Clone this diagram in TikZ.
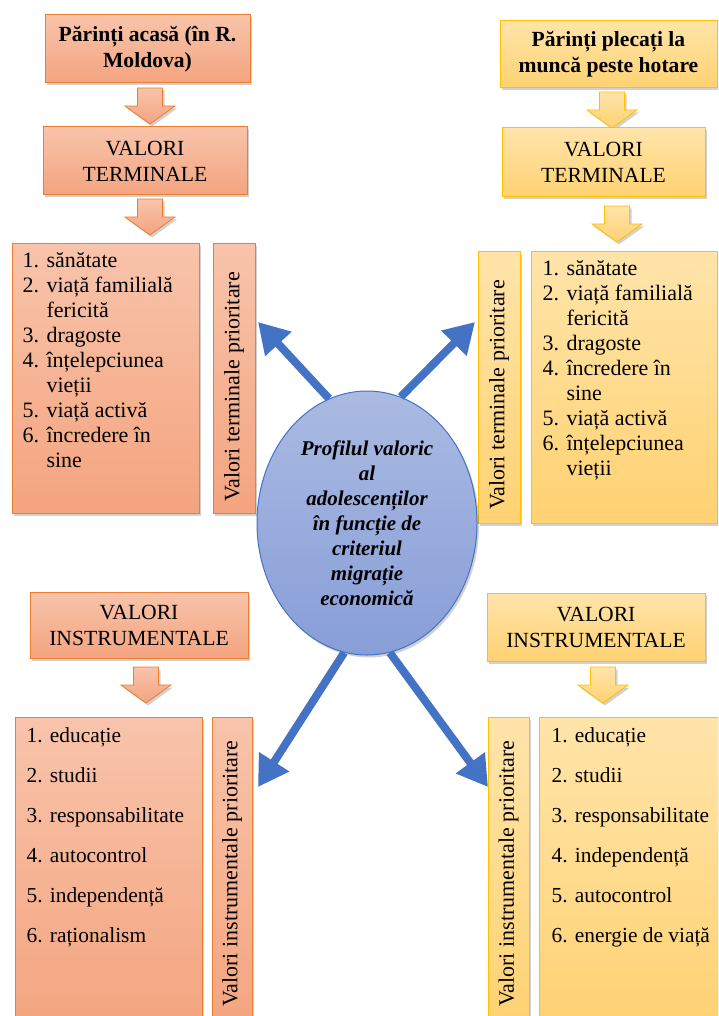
\documentclass[tikz,border=0pt]{standalone}
\usepackage{fontspec}
\setmainfont{Liberation Serif}
\usetikzlibrary{arrows.meta,shapes.geometric,shadows,positioning}
\definecolor{orangeline}{HTML}{ED7D31}
\definecolor{orangetop}{HTML}{F8C4AB}
\definecolor{orangebot}{HTML}{F4A47F}
\definecolor{goldline}{HTML}{FFC000}
\definecolor{goldtop}{HTML}{FFE4AA}
\definecolor{goldbot}{HTML}{FFD272}
\definecolor{blueline}{HTML}{4472C4}
\definecolor{bluetop}{HTML}{AABAE2}
\definecolor{bluebot}{HTML}{889ED8}
\begin{document}
\begin{tikzpicture}[x=1pt,y=-1pt,
    shadowed/.style={drop shadow={shadow xshift=2pt,shadow yshift=-2.5pt,opacity=0.3,fill=black!60}},
    orangebox/.style={draw=orangeline,line width=1pt,top color=orangetop,bottom color=orangebot,shadowed},
    goldbox/.style={draw=goldline,line width=1pt,top color=goldtop,bottom color=goldbot,shadowed},
    titletext/.style={font=\fontsize{21.6}{26}\selectfont\bfseries,align=center,inner sep=0pt},
    headtext/.style={font=\fontsize{21.6}{26}\selectfont,align=center,inner sep=0pt},
    sidebox/.style={rotate=90,font=\fontsize{22}{25}\selectfont,inner sep=0pt},
    listtext/.style={font=\fontsize{22}{25}\selectfont,align=left,inner sep=0pt},
    longlist/.style={listtext,font=\fontsize{21.4}{40}\selectfont},
    bluearrow/.style={draw=blueline,line width=8pt,-{Triangle[length=30pt,width=34pt]}}]
\useasboundingbox (0,0) rectangle (718,1016);
\clip (0,0) rectangle (718,1016);

    %Sageti groase intre cutii
    \foreach \cx/\ty/\sty in {150/88/orangebox,150/199/orangebox,612/92/goldbox,617/206/goldbox,146/667/orangebox,603/667/goldbox}{
        \draw[\sty,line width=0.8pt,shift={(\cx,\ty)}] (-12.5,0) -- (12.5,0) -- (12.5,18) -- (25,18) -- (0,36) -- (-25,18) -- (-12.5,18) -- cycle;
    }

    %Coloana stanga
    \node[orangebox,titletext,minimum width=205,minimum height=68] (ptitle) at (147.5,49) {Părinți acasă (în R.\\Moldova)};
    \node[orangebox,headtext,minimum width=204,minimum height=68] (pterm) at (145,161) {VALORI\\TERMINALE};
    \node[orangebox,minimum width=187,minimum height=270] (plist) at (105.5,378) {};
    \node[listtext,below right=10pt and 11pt of plist.north west] (ptext) {1. sănătate\\
        2. viață familială\\
        \phantom{2. }fericită\\
        3. dragoste\\
        4. înțelepciunea\\
        \phantom{4. }vieții\\
        5. viață activă\\
        6. încredere în\\
        \phantom{6. }sine};
    \node[orangebox,sidebox,minimum width=270,minimum height=42] (pside) at (234,378) {\hspace*{-18pt}Valori terminale prioritare};

    \node[orangebox,headtext,minimum width=218,minimum height=66] (pinstr) at (139,625) {VALORI\\INSTRUMENTALE};
    \node[orangebox,minimum width=187,minimum height=313] (pilist) at (108.5,873.5) {};
    \node[longlist,below right=11pt and 12pt of pilist.north west] (pitext) {1. educație\\
        2. studii\\
        3. responsabilitate\\
        4. autocontrol\\
        5. independență\\
        6. raționalism};
    \node[orangebox,sidebox,minimum width=313,minimum height=40] (piside) at (232,873.5) {Valori instrumentale prioritare};

    %Coloana dreapta
    \node[goldbox,titletext,minimum width=217,minimum height=67] (mtitle) at (608.5,54.5) {Părinți plecați la\\muncă peste hotare};
    \node[goldbox,headtext,minimum width=203,minimum height=69] (mterm) at (603.5,162.5) {VALORI\\TERMINALE};
    \node[goldbox,minimum width=186,minimum height=272] (mlist) at (624,387) {};
    \node[listtext,below right=10pt and 12pt of mlist.north west] (mtext) {1. sănătate\\
        2. viață familială\\
        \phantom{2. }fericită\\
        3. dragoste\\
        4. încredere în\\
        \phantom{4. }sine\\
        5. viață activă\\
        6. înțelepciunea\\
        \phantom{6. }vieții};
    \node[goldbox,sidebox,minimum width=272,minimum height=42] (mside) at (499,387) {\hspace*{-16pt}Valori terminale prioritare};

    \node[goldbox,headtext,minimum width=218,minimum height=68] (minstr) at (596,627) {VALORI\\INSTRUMENTALE};
    \node[goldbox,minimum width=179,minimum height=313] (milist) at (628.5,873.5) {};
    \node[longlist,below right=11pt and 13pt of milist.north west] (mitext) {1. educație\\
        2. studii\\
        3. responsabilitate\\
        4. independență\\
        5. autocontrol\\
        6. energie de viață};
    \node[goldbox,sidebox,minimum width=313,minimum height=41] (miside) at (508.5,873.5) {Valori instrumentale prioritare};

    %Elipsa centrala
    \node[ellipse,draw=blueline,line width=1pt,top color=bluetop,bottom color=bluebot,shadowed,
        minimum width=220,minimum height=264,inner sep=0pt,align=center,
        font=\fontsize{21}{25}\selectfont\bfseries\itshape] (prof) at (367,523)
        {Profilul valoric\\al\\adolescenților\\în funcție de\\criteriul\\migrație\\economică};

    %Sageti albastre
    \coordinate (ptip) at (258,322);
    \coordinate (mtip) at (475,322);
    \coordinate (pitip) at (258,787);
    \coordinate (mitip) at (488,787);
    \draw[bluearrow] (prof.107) -- (ptip);
    \draw[bluearrow] (prof.75) -- (mtip);
    \draw[bluearrow] (prof.260) -- (pitip);
    \draw[bluearrow] (prof.280) -- (mitip);
\end{tikzpicture}
\end{document}
